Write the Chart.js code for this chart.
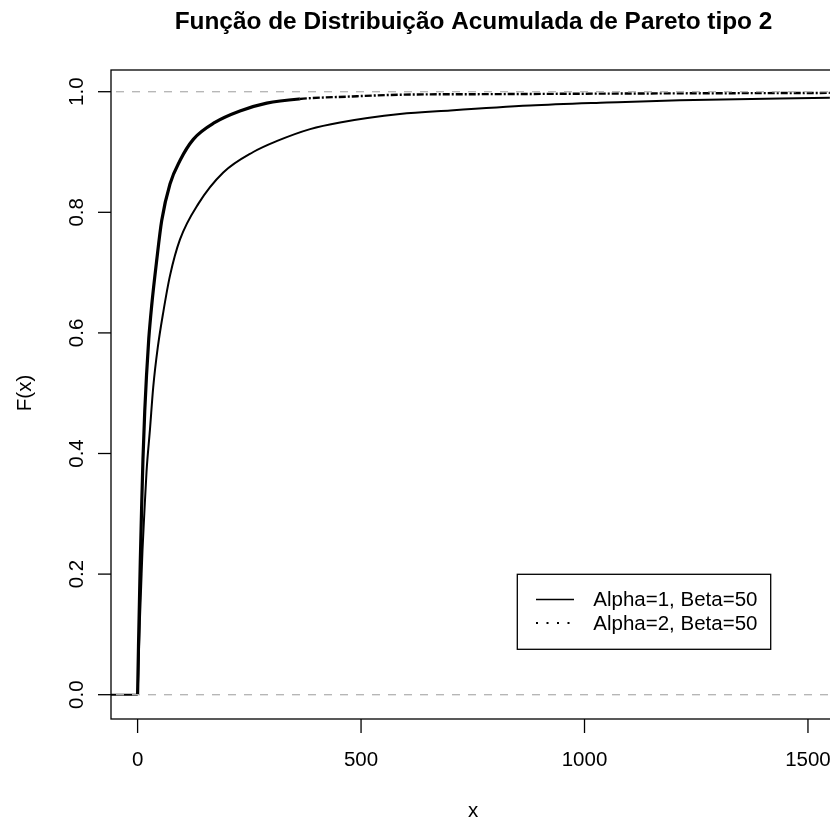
<!DOCTYPE html>
<html>
<head>
<meta charset="utf-8">
<script src="https://cdn.jsdelivr.net/npm/chart.js@4"></script>
<style>
  body { margin: 0; background: #fff; }
  #wrap { width: 830px; height: 819px; }
</style>
</head>
<body>
<div id="wrap"><canvas id="cdf" width="830" height="819"></canvas></div>
<script>
// curve for Alpha=1, Beta=50
var xAlpha1 = [-59.5, 0, 2.5, 5, 8, 11, 15, 20, 27.7, 35, 45, 57.6, 72.5, 94.9, 135.8, 191.7, 258.8, 311, 386, 453, 587, 700, 878, 1050, 1213, 1549];
var fAlpha1 = [0, 0, 0.06, 0.12, 0.18, 0.24, 0.30, 0.37, 0.44, 0.51, 0.575, 0.635, 0.695, 0.755, 0.814, 0.866, 0.900, 0.918, 0.938, 0.949, 0.963, 0.969, 0.977, 0.982, 0.986, 0.990];
// curve for Alpha=2, Beta=50
var xAlpha2 = [0, 2, 4, 6, 9, 12, 16, 20, 25, 31.5, 42.7, 53.9, 72.5, 94.9, 124.7, 173, 229, 289, 363, 475, 587, 800, 1100, 1549];
var fAlpha2 = [0, 0.08, 0.15, 0.22, 0.31, 0.39, 0.47, 0.53, 0.59, 0.645, 0.72, 0.786, 0.847, 0.886, 0.921, 0.949, 0.968, 0.981, 0.988, 0.992, 0.995, 0.996, 0.997, 0.998];

var seriesNames = ["Alpha=1, Beta=50", "Alpha=2, Beta=50"];
var xTicks = [0, 500, 1000, 1500];
var yTicks = [0, 0.2, 0.4, 0.6, 0.8, 1.0];
var refLevels = [0, 1];

var xMin = -59.5, xMax = 1549.3;
var yMin = -0.0403, yMax = 1.036;

var FONT = '"Liberation Sans", Arial, Helvetica, sans-serif';

function toPoints(xs, ys) {
  return xs.map(function (x, i) { return { x: x, y: ys[i] }; });
}

var datasets = refLevels.map(function (lvl) {
  return {
    data: [{ x: xMin, y: lvl }, { x: xMax, y: lvl }],
    borderColor: "#b3b3b3",
    borderWidth: 1.3,
    borderDash: [8, 8],
    borderDashOffset: 11,
    pointRadius: 0
  };
});

datasets.push({
  label: seriesNames[0],
  data: toPoints(xAlpha1, fAlpha1),
  borderColor: "#000",
  borderWidth: 2,
  pointRadius: 0,
  cubicInterpolationMode: "monotone"
});

datasets.push({
  label: seriesNames[1],
  data: toPoints(xAlpha2, fAlpha2),
  borderColor: "#000",
  borderWidth: 3.2,
  pointRadius: 0,
  cubicInterpolationMode: "monotone",
  // dotted pattern only shows once the curve flattens out
  segment: {
    borderDash: function (ctx) { return ctx.p0.parsed.x >= 363 ? [7, 2, 2, 2] : undefined; },
    borderWidth: function (ctx) { return ctx.p0.parsed.x >= 363 ? 2.4 : undefined; }
  }
});

// base-graphics style frame, axes, titles and legend
var rAxes = {
  id: "rAxes",
  afterDraw: function (chart) {
    var ctx = chart.ctx;
    var a = chart.chartArea;
    var sx = chart.scales.x, sy = chart.scales.y;
    ctx.save();
    ctx.strokeStyle = "#000";
    ctx.fillStyle = "#000";
    ctx.lineWidth = 1.3;
    ctx.setLineDash([]);

    // box
    ctx.strokeRect(a.left, a.top, a.right - a.left + 5, a.bottom - a.top);

    // x axis
    ctx.font = "20.5px " + FONT;
    ctx.textAlign = "center";
    ctx.textBaseline = "alphabetic";
    xTicks.forEach(function (v) {
      var px = sx.getPixelForValue(v);
      ctx.beginPath();
      ctx.moveTo(px, a.bottom);
      ctx.lineTo(px, a.bottom + 14);
      ctx.stroke();
      ctx.fillText(String(v), px, 766);
    });

    // y axis, labels turned sideways
    yTicks.forEach(function (v) {
      var py = sy.getPixelForValue(v);
      ctx.beginPath();
      ctx.moveTo(a.left, py);
      ctx.lineTo(a.left - 13, py);
      ctx.stroke();
      ctx.save();
      ctx.translate(83, py);
      ctx.rotate(-Math.PI / 2);
      ctx.fillText(v.toFixed(1), 0, 0);
      ctx.restore();
    });

    // axis titles
    ctx.fillText("x", 473, 817);
    ctx.save();
    ctx.translate(31, 393);
    ctx.rotate(-Math.PI / 2);
    ctx.fillText("F(x)", 0, 0);
    ctx.restore();

    // main title
    ctx.font = "bold 24.4px " + FONT;
    ctx.fillText("Função de Distribuição Acumulada de Pareto tipo 2", 473.5, 28.5);

    // legend
    ctx.fillStyle = "#fff";
    ctx.fillRect(517.3, 574.3, 253.4, 75);
    ctx.strokeRect(517.3, 574.3, 253.4, 75);
    ctx.fillStyle = "#000";
    ctx.beginPath();
    ctx.moveTo(536, 599.5);
    ctx.lineTo(574, 599.5);
    ctx.stroke();
    ctx.setLineDash([2, 8.5]);
    ctx.lineWidth = 2;
    ctx.beginPath();
    ctx.moveTo(536, 623);
    ctx.lineTo(574, 623);
    ctx.stroke();
    ctx.setLineDash([]);
    ctx.font = "20.5px " + FONT;
    ctx.textAlign = "left";
    ctx.fillText(seriesNames[0], 593.3, 606);
    ctx.fillText(seriesNames[1], 593.3, 630);
    ctx.restore();
  }
};

new Chart(document.getElementById("cdf"), {
  type: "line",
  data: { datasets: datasets },
  options: {
    responsive: false,
    animation: false,
    devicePixelRatio: 1,
    layout: { padding: { left: 111, top: 70, right: 0, bottom: 100 } },
    plugins: { legend: { display: false }, title: { display: false }, tooltip: { enabled: false } },
    scales: {
      x: { type: "linear", min: xMin, max: xMax, display: false },
      y: { type: "linear", min: yMin, max: yMax, display: false }
    }
  },
  plugins: [rAxes]
});
</script>
</body>
</html>
